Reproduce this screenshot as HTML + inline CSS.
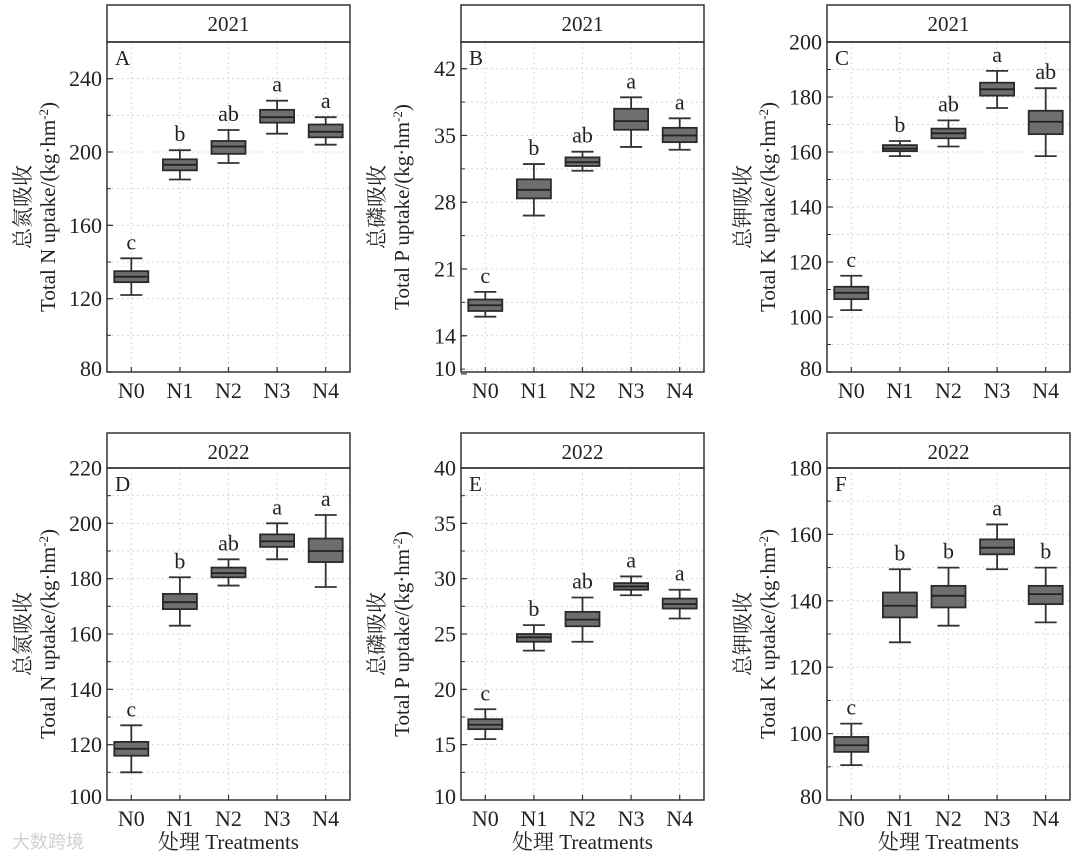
<!DOCTYPE html>
<html><head><meta charset="utf-8">
<style>
html,body{margin:0;padding:0;background:#fff;}
svg{display:block;font-family:"Liberation Serif","Noto Serif CJK SC",serif;}
</style></head>
<body>
<svg id="chart" width="1080" height="860" viewBox="0 0 1080 860" xmlns="http://www.w3.org/2000/svg"></svg>
<script>
const categories = ["N0","N1","N2","N3","N4"];
// panel A: total N 2021
const aWlo=[122,185,194,210,204], aQ1=[129,190,199,216,208], aMed=[132,193,203,219,211], aQ3=[135,196,206,223,215], aWhi=[142,201,212,228,219];
const aLetters=["c","b","ab","a","a"];
const aTicks=[80,120,160,200,240];
// panel B: total P 2021
const bWlo=[16,26.6,31.3,33.8,33.5], bQ1=[16.6,28.4,31.8,35.6,34.3], bMed=[17.2,29.3,32.2,36.5,35], bQ3=[17.8,30.4,32.7,37.8,35.8], bWhi=[18.6,32,33.3,39,36.8];
const bLetters=["c","b","ab","a","a"];
const bTicks=[10,14,21,28,35,42];
// panel C: total K 2021
const cWlo=[102.5,158.5,162,176,158.5], cQ1=[106.5,160.3,165,180.5,166.5], cMed=[108.8,161.2,166.8,182.8,171], cQ3=[111,162.5,168.5,185.2,175], cWhi=[115,164,171.5,189.5,183.2];
const cLetters=["c","b","ab","a","ab"];
const cTicks=[80,100,120,140,160,180,200];
// panel D: total N 2022
const dWlo=[110,163,177.5,187,177], dQ1=[116,169,180.5,191.5,186], dMed=[118.5,171.5,182,193.5,190], dQ3=[121,174.5,184,196,194.5], dWhi=[127,180.5,187,200,203];
const dLetters=["c","b","ab","a","a"];
const dTicks=[100,120,140,160,180,200,220];
// panel E: total P 2022
const eWlo=[15.5,23.5,24.3,28.5,26.4], eQ1=[16.4,24.3,25.7,29,27.3], eMed=[16.8,24.7,26.3,29.3,27.7], eQ3=[17.3,25,27,29.6,28.2], eWhi=[18.2,25.8,28.3,30.2,29];
const eLetters=["c","b","ab","a","a"];
const eTicks=[10,15,20,25,30,35,40];
// panel F: total K 2022
const fWlo=[90.5,127.5,132.5,149.5,133.5], fQ1=[94.5,135,138,154,139], fMed=[96.5,138.5,141.5,156,142], fQ3=[99,142.5,144.5,158.5,144.5], fWhi=[103,149.5,150,163,150];
const fLetters=["c","b","b","a","b"];
const fTicks=[80,100,120,140,160,180];

const NS="http://www.w3.org/2000/svg";
const svg=document.getElementById('chart');
function mk(tag,attrs,parent,text){const e=document.createElementNS(NS,tag);for(const k in attrs)e.setAttribute(k,attrs[k]);if(text!==undefined)e.textContent=text;(parent||svg).appendChild(e);return e;}

const panels=[
 {id:"a",x0:107,x1:350,top:5,band:42,bot:372,ymin:80,ymax:260,minor:20,ticks:aTicks,d:[aWlo,aQ1,aMed,aQ3,aWhi],L:aLetters,tag:"A",year:"2021",cn:"总氮吸收",en:"Total N uptake/(kg·hm",xt:false},
 {id:"b",x0:461,x1:704,top:5,band:42,bot:372,ymin:10.2,ymax:44.8,minor:3.5,ticks:bTicks,d:[bWlo,bQ1,bMed,bQ3,bWhi],L:bLetters,tag:"B",year:"2021",cn:"总磷吸收",en:"Total P uptake/(kg·hm",xt:false},
 {id:"c",x0:827,x1:1070,top:5,band:42,bot:372,ymin:80,ymax:200,minor:10,ticks:cTicks,d:[cWlo,cQ1,cMed,cQ3,cWhi],L:cLetters,tag:"C",year:"2021",cn:"总钾吸收",en:"Total K uptake/(kg·hm",xt:false},
 {id:"d",x0:107,x1:350,top:433,band:468,bot:800,ymin:100,ymax:220,minor:10,ticks:dTicks,d:[dWlo,dQ1,dMed,dQ3,dWhi],L:dLetters,tag:"D",year:"2022",cn:"总氮吸收",en:"Total N uptake/(kg·hm",xt:true},
 {id:"e",x0:461,x1:704,top:433,band:468,bot:800,ymin:10,ymax:40,minor:2.5,ticks:eTicks,d:[eWlo,eQ1,eMed,eQ3,eWhi],L:eLetters,tag:"E",year:"2022",cn:"总磷吸收",en:"Total P uptake/(kg·hm",xt:true},
 {id:"f",x0:827,x1:1070,top:433,band:468,bot:800,ymin:80,ymax:180,minor:10,ticks:fTicks,d:[fWlo,fQ1,fMed,fQ3,fWhi],L:fLetters,tag:"F",year:"2022",cn:"总钾吸收",en:"Total K uptake/(kg·hm",xt:true}
];

panels.forEach(p=>{
 const g=mk('g',{});
 
 
 const n=categories.length, w=(p.x1-p.x0)/n;
 const xs=i=>p.x0+w*(i+0.5);
 const ys=v=>p.bot-(v-p.ymin)/(p.ymax-p.ymin)*(p.bot-p.band);
 for(let i=0;i<n;i++){const l=mk('line',{x1:xs(i),x2:xs(i),y1:p.band,y2:p.bot,stroke:"#d8d8d8","stroke-dasharray":"2,3"},g);}
 let start=Math.ceil(p.ymin/p.minor)*p.minor;
 for(let v=start;v<=p.ymax+1e-9;v+=p.minor){
  const y=ys(v);
  const l=mk('line',{x1:p.x0,x2:p.x1,y1:y,y2:y,stroke:"#d8d8d8","stroke-dasharray":"2,3"},g);
  
  mk('line',{x1:p.x0,x2:p.x0+4,y1:y,y2:y,stroke:"#333","stroke-width":1},g);
 }
 p.ticks.forEach(t=>{
  const y=ys(t);
  mk('line',{x1:p.x0,x2:p.x0+6,y1:y,y2:y,stroke:"#333","stroke-width":1.2},g);
  const tx=mk('text',{x:p.x0-5,y:Math.min(y+7.5,p.bot+4),"text-anchor":"end","font-size":22,fill:"#222"},g,String(t));
  
 });
 const band=mk('rect',{x:p.x0,y:p.top,width:p.x1-p.x0,height:p.band-p.top,fill:"#fff",stroke:"#333","stroke-width":1.5},g);
 
 const yr=mk('text',{x:(p.x0+p.x1)/2,y:p.top+26,"text-anchor":"middle","font-size":21,fill:"#222"},g,p.year);
 
 const fr=mk('rect',{x:p.x0,y:p.band,width:p.x1-p.x0,height:p.bot-p.band,fill:"none",stroke:"#333","stroke-width":1.5},g);
 
 const tg=mk('text',{x:p.x0+8,y:p.band+23,"font-size":21,fill:"#222"},g,p.tag);
 
 const bw=34, cw=22;
 for(let i=0;i<n;i++){
  const cx=xs(i), lo=p.d[0][i], q1=p.d[1][i], md=p.d[2][i], q3=p.d[3][i], hi=p.d[4][i];
  const bg=mk('g',{},g);
  mk('line',{x1:cx,x2:cx,y1:ys(hi),y2:ys(lo),stroke:"#333","stroke-width":1.8},bg);
  mk('line',{x1:cx-cw/2,x2:cx+cw/2,y1:ys(hi),y2:ys(hi),stroke:"#333","stroke-width":1.8},bg);
  mk('line',{x1:cx-cw/2,x2:cx+cw/2,y1:ys(lo),y2:ys(lo),stroke:"#333","stroke-width":1.8},bg);
  mk('rect',{x:cx-bw/2,y:ys(q3),width:bw,height:Math.max(ys(q1)-ys(q3),2),fill:"#6e6e6e",stroke:"#2a2a2a","stroke-width":1.8},bg);
  mk('line',{x1:cx-bw/2,x2:cx+bw/2,y1:ys(md),y2:ys(md),stroke:"#222","stroke-width":1.8},bg);
  const lt=mk('text',{x:cx,y:ys(hi)-9,"text-anchor":"middle","font-size":22,fill:"#222"},g,p.L[i]);
  
  mk('line',{x1:cx,x2:cx,y1:p.bot,y2:p.bot-5,stroke:"#333","stroke-width":1.2},g);
  const xl=mk('text',{x:cx,y:p.bot+26,"text-anchor":"middle","font-size":22,fill:"#222"},g,categories[i]);
  
 }
 const cy=(p.band+p.bot)/2;
 const t1=mk('text',{x:0,y:0,transform:`translate(${p.x0-77},${cy}) rotate(-90)`,"text-anchor":"middle","font-size":21,fill:"#222"},g,p.cn);
 
 const t2=mk('text',{x:0,y:0,transform:`translate(${p.x0-52},${cy}) rotate(-90)`,"text-anchor":"middle","font-size":21,fill:"#222"},g);
 
 t2.appendChild(document.createTextNode(p.en));
 mk('tspan',{dy:-7,"font-size":13},t2,"-2");
 mk('tspan',{dy:7},t2,")");
 if(p.xt){
  const xt=mk('text',{x:(p.x0+p.x1)/2,y:849,"text-anchor":"middle","font-size":21,fill:"#222"},g,"处理  Treatments");
  
 }
});
const wm=mk('text',{x:12,y:848,"font-size":18,fill:"#d0d0d0","font-family":"Noto Sans CJK SC, sans-serif"},svg,"大数跨境");

</script>
</body></html>
